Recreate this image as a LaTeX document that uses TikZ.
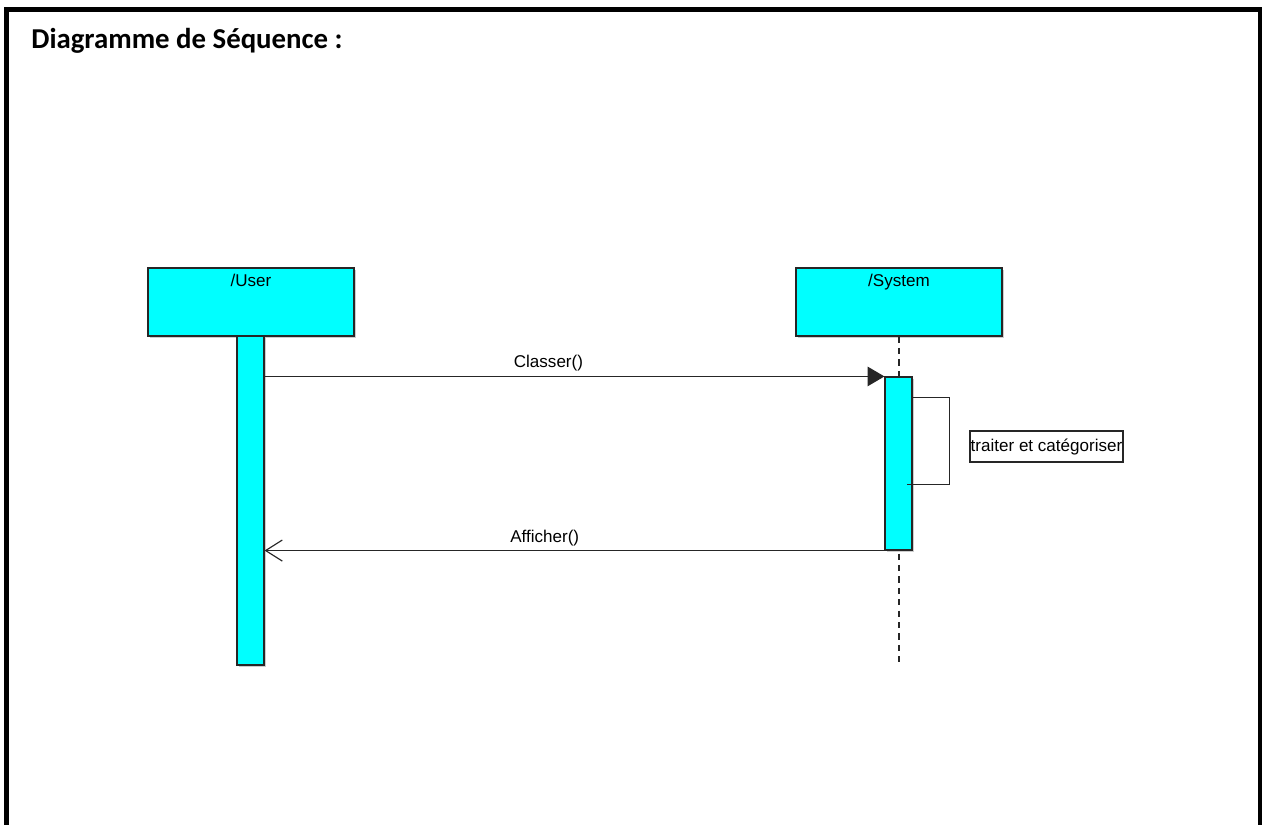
\documentclass[tikz,border=0pt]{standalone}
\usepackage{fontspec}
\setmainfont{Liberation Sans}
\newfontfamily\titlefont{Carlito}
\usetikzlibrary{arrows.meta,shadows}
\definecolor{lifecyan}{RGB}{0,255,255}

\begin{document}
\begin{tikzpicture}[x=0.02cm, y=0.02cm]
  \tikzstyle{every node}+=[inner sep=0pt, font=\fontsize{9.7}{11}\selectfont]
  \tikzstyle{shadowed}=[drop shadow={shadow xshift=1pt, shadow yshift=-1pt, fill=black, opacity=0.2}]
  \tikzstyle{lifebox}=[draw=black!85, fill=lifecyan, line width=0.65pt, minimum width=4.12cm, minimum height=1.36cm, shadowed]
  \tikzstyle{actbar}=[draw=black!85, fill=lifecyan, line width=0.65pt, minimum width=0.54cm, shadowed]
  \tikzstyle{msg}=[black!85, line width=0.65pt]
  \useasboundingbox (0,0) rectangle (1262,-825);
  % frame and title
  \draw [black, line width=2.6pt] (6.5,-825) -- (6.5,-9.5) -- (1260,-9.5) -- (1260,-825);
  \draw (31,-48) node [anchor=base west] {\titlefont\bfseries\fontsize{16.4}{19}\selectfont Diagramme de Séquence :};
  % lifelines
  \node (user) [lifebox, label={[anchor=north, yshift=-3.5pt]north:/User}] at (251,-302) {};
  \node (sys) [lifebox, label={[anchor=north, yshift=-3.5pt]north:/System}] at (899,-302) {};
  \coordinate (sysend) at (899,-665);
  \draw [msg, dash pattern=on 3.5pt off 3pt] (sys.south) -- (sysend);
  \node (ubar) [actbar, minimum height=6.58cm] at (250.5,-500.5) {};
  \node (sbar) [actbar, minimum height=3.46cm] at (898.5,-463.5) {};
  % messages
  \draw [msg, -{Triangle[length=9.5pt, width=11pt]}] (ubar.east |- sbar.north) -- (sbar.north west)
    node [pos=0.458, above=2.5pt, black] {Classer()};
  \draw [msg, -{Straight Barb[length=9.5pt, width=12pt]}] (sbar.south west) -- (ubar.east |- sbar.south)
    node [pos=0.548, above=2.5pt, black] {Afficher()};
  \draw [msg] ([yshift=-0.42cm]sbar.north east) -| ++(37,-87) -- ++(-43,0);
  \node (note) [draw=black!85, line width=0.65pt, minimum width=3.06cm, minimum height=0.62cm] at (1046.5,-446.5) {traiter et catégoriser};
\end{tikzpicture}
\end{document}
